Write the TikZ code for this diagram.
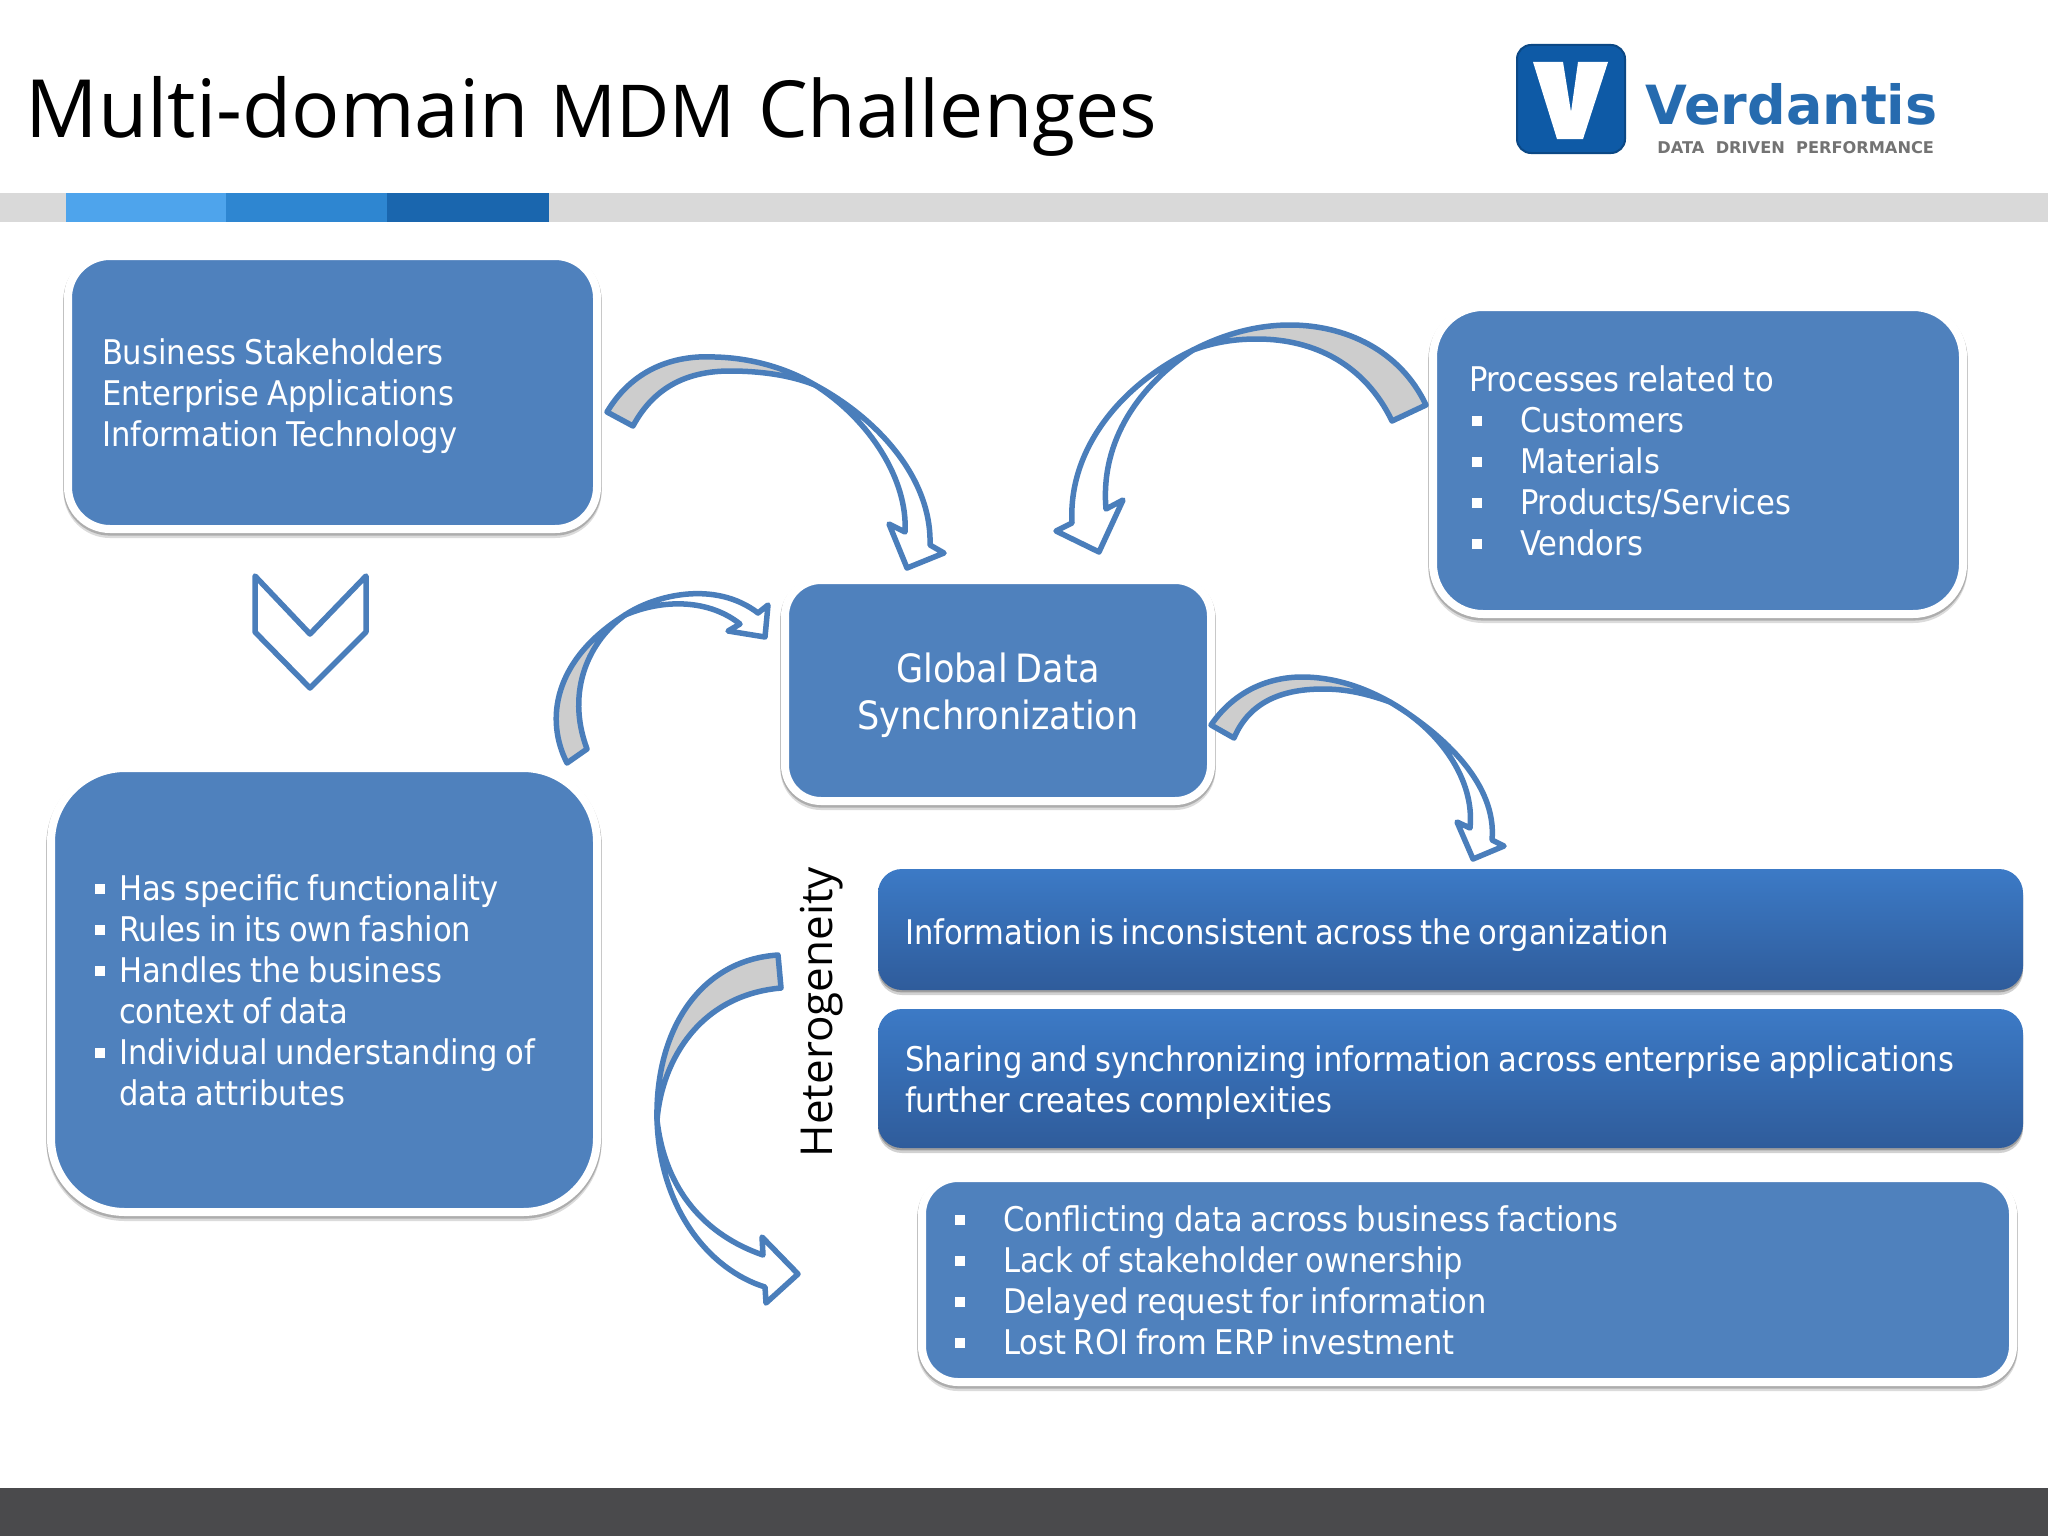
\documentclass[tikz,border=0pt]{standalone}
\usepackage{fontspec}
\setmainfont{Open Sans}
\newfontfamily\bodyfont{DejaVu Sans Condensed}
\newfontfamily\logofont{DejaVu Sans}
\usetikzlibrary{shadows}
\definecolor{boxblue}{HTML}{4F81BD}
\definecolor{arrowblue}{HTML}{4A7EBB}
\definecolor{ribbon}{HTML}{CDCDCD}
\definecolor{bargray}{HTML}{D9D9D9}
\definecolor{footgray}{HTML}{4A4A4C}
\definecolor{logoblue}{HTML}{0E5AA6}
\definecolor{HLtop}{HTML}{3C7AC6}
\definecolor{HLbot}{HTML}{2F5C9B}
\definecolor{barone}{HTML}{4EA4EC}
\definecolor{bartwo}{HTML}{2E86D1}
\definecolor{barthree}{HTML}{1A66AE}
\newcommand{\blt}[1]{\makebox[#1][l]{\raisebox{3pt}{\rule{5pt}{5pt}}}}
\newcommand{\bltp}{\makebox[25.5pt][l]{\hspace{1.3pt}\raisebox{3pt}{\rule{5pt}{5pt}}}}
\newcommand{\boxtext}{\bodyfont\fontsize{17}{20.5}\selectfont}
\newcommand{\synctext}{\bodyfont\fontsize{19.5}{23.5}\selectfont}
\tikzset{
  x=0.5pt,y=-0.5pt,
  bluebox/.style={rectangle,fill=boxblue,draw=white,line width=4pt,text=white,align=left,outer sep=0pt,
    font=\boxtext,execute at begin node={\spaceskip 3.9pt\relax},
    general shadow={shadow xshift=0pt,shadow yshift=-2.2pt,fill=black!14,draw=black!14,line width=4.6pt},
    general shadow={shadow xshift=0pt,shadow yshift=-1pt,fill=black!32,draw=black!32,line width=4.6pt}},
  gradbox/.style={rectangle,top color=HLtop,bottom color=HLbot,text=white,align=left,outer sep=0pt,
    rounded corners=12pt,minimum width=572.5pt,text width=545.5pt,inner xsep=13.5pt,
    font=\boxtext,execute at begin node={\spaceskip 3.9pt\relax},
    general shadow={shadow xshift=0pt,shadow yshift=-2.5pt,fill=black!18},
    general shadow={shadow xshift=0pt,shadow yshift=-1.2pt,fill=black!38}},
  tail/.style={fill=ribbon,draw=arrowblue,line width=2.75pt,line join=round},
  head/.style={fill=white,draw=arrowblue,line width=2.75pt,line join=round},
}
\begin{document}
\begin{tikzpicture}
\useasboundingbox (0,0) rectangle (2048,1536);
\fill[white] (0,0) rectangle (2048,1536);
% header bar
\fill[bargray] (0,193) rectangle (2048,222);
\fill[barone] (66,193) rectangle (226,222);
\fill[bartwo] (226,193) rectangle (387,222);
\fill[barthree] (387,193) rectangle (549,222);
\fill[footgray] (0,1488) rectangle (2048,1536);
% title
\node[anchor=base west,inner sep=0pt,text=black,font=\fontsize{40.2}{48}\selectfont] (title) at (25,137) {Multi-domain {\fontsize{36.5}{40}\selectfont MDM} \hspace{1pt}{\fontsize{39.4}{48}\selectfont Challenges}};
% logo
\fill[logoblue,draw=logoblue!80!black,line width=1pt,rounded corners=7pt] (1517,45) rectangle (1625,153);
\fill[white] (1533,62) -- (1563,62) -- (1571,112) -- (1578,62) -- (1608,62) -- (1583,139) -- (1557,139) -- cycle;
\node[anchor=base west,inner sep=0pt,text=logoblue!90!white,font=\logofont\bfseries\fontsize{27}{30}\selectfont] (logoname) at (1645,125) {Verdantis};
\node[anchor=base west,inner sep=0pt,text=black!55,font=\logofont\bfseries\fontsize{8.1}{10}\selectfont] (logotag) at (1657,154) {DATA\ \ DRIVEN\ \ PERFORMANCE};
% boxes
\node[bluebox,rounded corners=21pt,minimum width=264.5pt,minimum height=136.5pt,text width=230.5pt,inner xsep=17pt] (stake) at (332.5,392.5) {\rule{0pt}{17pt}Business Stakeholders\\Enterprise Applications\\Information Technology};
\node[bluebox,rounded corners=25pt,minimum width=265pt,minimum height=153.5pt,text width=229pt,inner xsep=18pt] (proc) at (1698,460.5) {Processes related to\\\bltp Customers\\\bltp Materials\\\bltp Products/Services\\\bltp Vendors};
\node[bluebox,rounded corners=18pt,minimum width=213pt,minimum height=110.5pt,text width=190pt,inner xsep=11.5pt,align=center,font=\synctext] (sync) at (998,690.5) {\rule{0pt}{20pt}Global Data\\Synchronization};
\node[bluebox,rounded corners=37pt,minimum width=273pt,minimum height=222pt,text width=229pt,inner xsep=22pt] (func) at (324,990) {\blt{12pt}Has specific functionality\\\blt{12pt}Rules in its own fashion\\\blt{12pt}Handles the business\\\hspace*{12pt}context of data\\\blt{12pt}Individual understanding of\\\hspace*{12pt}data attributes};
\node[gradbox,minimum height=60.5pt] (info) at (1450.5,929.5) {\rule{0pt}{18.5pt}Information is inconsistent across the organization};
\node[gradbox,minimum height=69.5pt] (share) at (1450.5,1078.5) {\rule{0pt}{17.5pt}Sharing and synchronizing information across enterprise applications\\further creates complexities};
\node[bluebox,rounded corners=18pt,minimum width=545.5pt,minimum height=102pt,text width=512.5pt,inner xsep=16.5pt] (conf) at (1467.5,1280) {\blt{24pt}Conflicting data across business factions\\\blt{24pt}Lack of stakeholder ownership\\\blt{24pt}Delayed request for information\\\blt{24pt}Lost ROI from ERP investment};
% rotated label
\node[rotate=90,anchor=base,inner sep=0pt,text=black,font=\fontsize{22}{27}\selectfont] (het) at (832,1012) {Heterogeneity};
% chevron
\draw[head] (255,576) -- (310,634) -- (366,576) -- (366,632) -- (310,688) -- (255,632) -- cycle;
% arrow 1
\draw[head] (815,385) .. controls (880,420) and (932,480) .. (930,545) -- (944,553) -- (907,568) -- (889,524) -- (905,532) .. controls (908,480) and (870,420) .. (815,385) -- cycle;
\draw[tail] (607,412) .. controls (635,365) and (680,355) .. (715,357) .. controls (755,358) and (790,370) .. (815,385) .. controls (790,375) and (760,371) .. (730,371) .. controls (690,371) and (655,385) .. (633,426) -- cycle;
% arrow 2
\draw[head] (1193,350) .. controls (1120,385) and (1068,450) .. (1072,523) -- (1056,531) -- (1099,552) -- (1123,500) -- (1106,509) .. controls (1100,440) and (1140,385) .. (1193,350) -- cycle;
\draw[tail] (1426,405) .. controls (1400,350) and (1345,325) .. (1290,325) .. controls (1255,325) and (1222,335) .. (1193,350) .. controls (1215,342) and (1235,339) .. (1257,339) .. controls (1315,339) and (1365,365) .. (1392,421) -- cycle;
% arrow 3
\draw[head] (625,615) .. controls (655,595) and (715,580) .. (758,613) -- (768,605) -- (765,637) -- (728,631) -- (740,624) .. controls (710,600) and (665,598) .. (625,615) -- cycle;
\draw[tail] (567,763) .. controls (545,720) and (553,660) .. (625,615) .. controls (590,640) and (565,690) .. (587,749) -- cycle;
% arrow 4
\draw[head] (1390,702) .. controls (1445,735) and (1497,785) .. (1492,840) -- (1504,846) -- (1473,859) -- (1457,822) -- (1470,828) .. controls (1475,780) and (1440,730) .. (1390,702) -- cycle;
\draw[tail] (1211,725) .. controls (1235,690) and (1270,677) .. (1302,677) .. controls (1335,677) and (1365,688) .. (1390,702) .. controls (1365,693) and (1345,689) .. (1323,689) .. controls (1285,689) and (1250,700) .. (1234,738) -- cycle;
% arrow 5
\draw[head] (657,1120) .. controls (660,1210) and (710,1270) .. (765,1287) -- (766,1303) -- (798,1274) -- (762,1237) -- (763,1255) .. controls (705,1235) and (665,1190) .. (657,1120) -- cycle;
\draw[tail] (778,955) .. controls (700,960) and (655,1030) .. (657,1120) .. controls (662,1060) and (700,995) .. (781,988) -- cycle;
\end{tikzpicture}
\end{document}
